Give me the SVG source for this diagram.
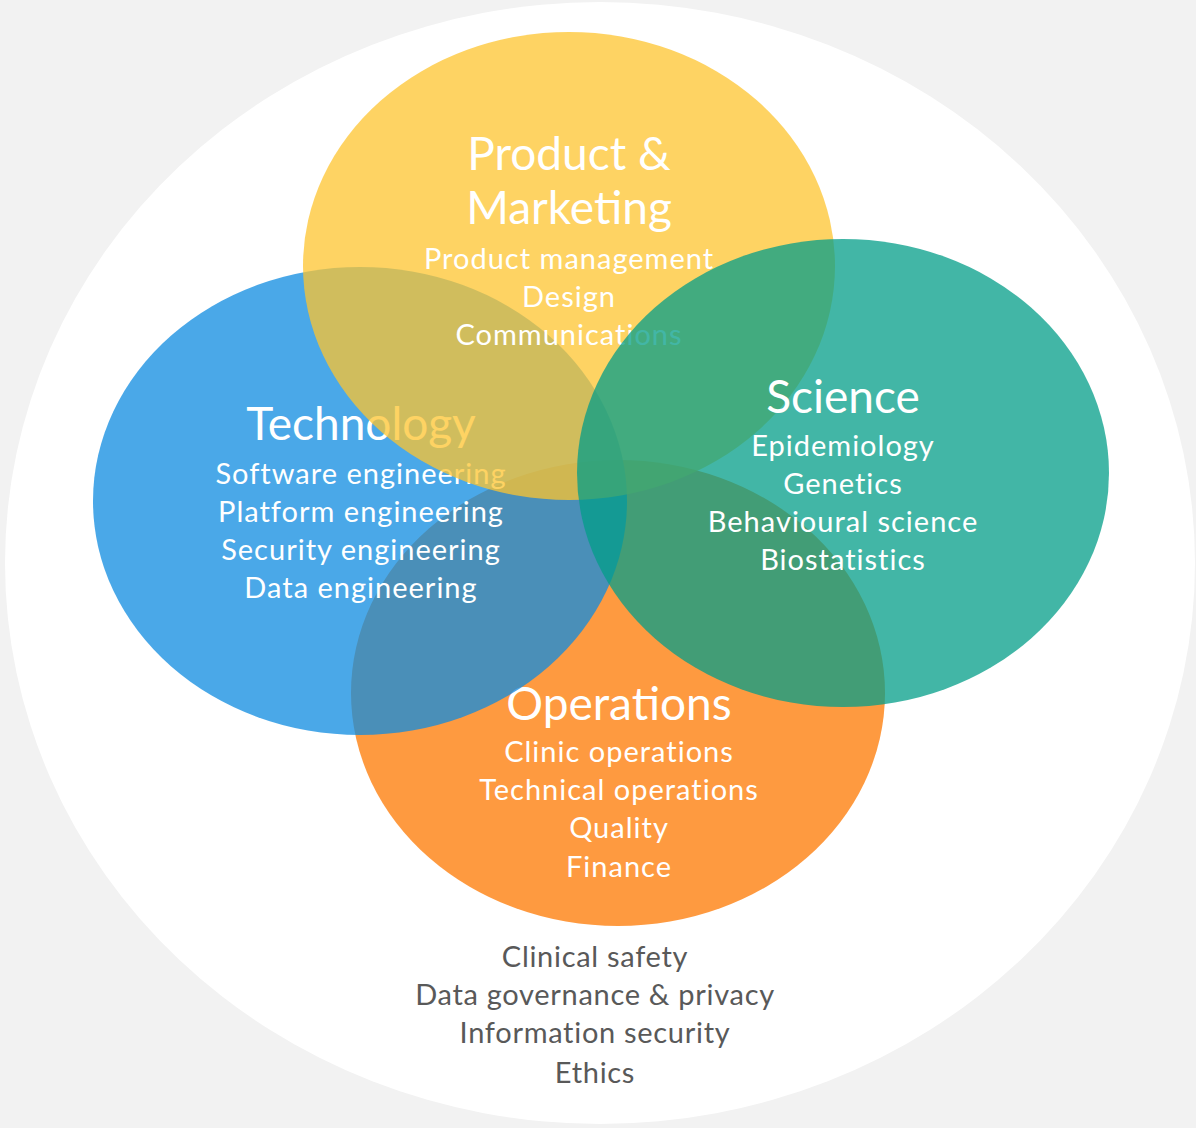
<svg xmlns="http://www.w3.org/2000/svg" width="1196" height="1128" viewBox="0 0 1196 1128">
<style>
text{font-family:Lato,"Liberation Sans",sans-serif;text-anchor:middle;}
.t{fill:#ffffff;font-size:46px;}
.s{fill:#ffffff;font-size:29px;letter-spacing:1px;}
.b{fill:#595959;font-size:29px;letter-spacing:0.7px;}
.c{opacity:0.75;}
</style>
<rect x="0" y="0" width="1196" height="1128" fill="#f2f2f2"/>
<ellipse cx="600" cy="563" rx="595" ry="561" fill="#ffffff"/>
<g id="operations">
<ellipse class="c" cx="618" cy="693" rx="267" ry="233" fill="#fe7800"/>
<text class="t" x="619" y="720">Operations</text>
<text class="s" x="619" y="762">Clinic operations</text>
<text class="s" x="619" y="800">Technical operations</text>
<text class="s" x="619" y="838">Quality</text>
<text class="s" x="619" y="877">Finance</text>
</g>
<g id="technology">
<ellipse class="c" cx="360" cy="501" rx="267" ry="234" fill="#0e8be0"/>
<text class="t" x="361" y="440">Technology</text>
<text class="s" x="361" y="484">Software engineering</text>
<text class="s" x="361" y="522">Platform engineering</text>
<text class="s" x="361" y="560">Security engineering</text>
<text class="s" x="361" y="598">Data engineering</text>
</g>
<g id="product">
<ellipse class="c" cx="569" cy="266" rx="266" ry="234" fill="#fec42f"/>
<text class="t" x="569" y="170">Product &amp;</text>
<text class="t" x="569" y="224">Marketing</text>
<text class="s" x="569" y="269">Product management</text>
<text class="s" x="569" y="307">Design</text>
<text class="s" x="569" y="345">Communications</text>
</g>
<g id="science">
<ellipse class="c" cx="843" cy="473" rx="266" ry="234" fill="#039e88"/>
<text class="t" x="843" y="413">Science</text>
<text class="s" x="843" y="456">Epidemiology</text>
<text class="s" x="843" y="494">Genetics</text>
<text class="s" x="843" y="532">Behavioural science</text>
<text class="s" x="843" y="570">Biostatistics</text>
</g>
<g id="shared">
<text class="b" x="595" y="967">Clinical safety</text>
<text class="b" x="595" y="1005">Data governance &amp; privacy</text>
<text class="b" x="595" y="1043">Information security</text>
<text class="b" x="595" y="1083">Ethics</text>
</g>
<g id="connectors"/>
</svg>
